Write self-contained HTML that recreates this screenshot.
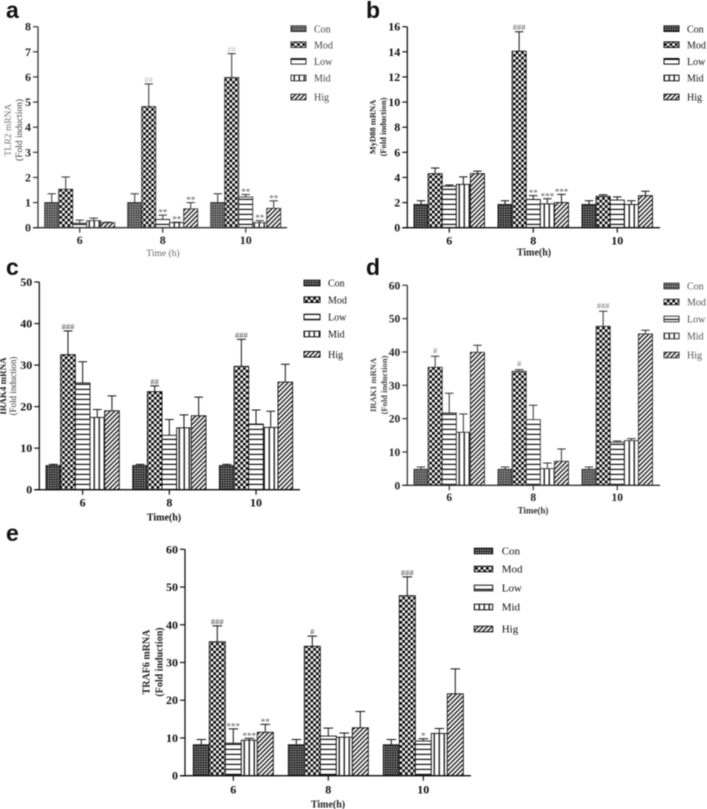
<!DOCTYPE html>
<html lang="en">
<head>
<meta charset="utf-8">
<title>mRNA fold induction panels</title>
<style>
html,body{margin:0;padding:0;background:#fff;}
body{width:707px;height:809px;overflow:hidden;}
svg{display:block;filter:blur(.4px);}
text{font-family:"Liberation Serif",serif;}
</style>
</head>
<body>
<svg id="figure" width="707" height="809" viewBox="0 0 707 809" xmlns="http://www.w3.org/2000/svg">
<defs>
<pattern id="pc" width="2.4" height="2.4" patternUnits="userSpaceOnUse"><rect width="2.4" height="2.4" fill="#222"/><rect width="1.2" height="1.2" fill="#ccc"/></pattern>
<pattern id="pc2" width="2.4" height="2.4" patternUnits="userSpaceOnUse"><rect width="2.4" height="2.4" fill="#444"/><rect width="1.2" height="1.2" fill="#ccc"/></pattern>
<pattern id="pm" width="5.4" height="5.4" patternUnits="userSpaceOnUse"><rect width="5.4" height="5.4" fill="#fff"/><rect width="2.7" height="2.7" fill="#000"/><rect x="2.7" y="2.7" width="2.7" height="2.7" fill="#000"/></pattern>
<pattern id="pl" width="5" height="5" patternUnits="userSpaceOnUse"><rect width="5" height="5" fill="#fff"/><rect y="3.8" width="5" height="1.2" fill="#111"/></pattern>
<pattern id="pv" width="5" height="5" patternUnits="userSpaceOnUse"><rect width="5" height="5" fill="#fff"/><rect x="3.6" width="1.3" height="5" fill="#111"/></pattern>
<pattern id="ph" width="3.2" height="3.2" patternUnits="userSpaceOnUse" patternTransform="rotate(45)"><rect width="3.2" height="3.2" fill="#fff"/><rect width="1.3" height="3.2" fill="#111"/></pattern>
</defs>
</svg>
<script>
const categories = ['6', '8', '10'];
const seriesNames = ['Con', 'Mod', 'Low', 'Mid', 'Hig'];

const aTicks = [0, 1, 2, 3, 4, 5, 6, 7, 8];
const aCon = [1, 1, 1];
const aMod = [1.53, 4.82, 5.98];
const aLow = [0.18, 0.33, 1.22];
const aMid = [0.28, 0.2, 0.2];
const aHig = [0.2, 0.75, 0.77];
const aConErr = [0.35, 0.35, 0.35];
const aModErr = [0.49, 0.9, 0.95];
const aLowErr = [0.12, 0.17, 0.1];
const aMidErr = [0.1, 0.02, 0.08];
const aHigErr = [0.02, 0.25, 0.3];
const aMarks = [['', '', ''], ['', '##', '##'], ['', '**', '**'], ['', '**', '**'], ['', '**', '**']];

const bTicks = [0, 2, 4, 6, 8, 10, 12, 14, 16];
const bCon = [1.85, 1.85, 1.85];
const bMod = [4.3, 14.05, 2.5];
const bLow = [3.3, 2.25, 2.2];
const bMid = [3.45, 1.9, 1.85];
const bHig = [4.3, 2.0, 2.55];
const bConErr = [0.3, 0.3, 0.3];
const bModErr = [0.45, 1.55, 0.12];
const bLowErr = [0.1, 0.3, 0.25];
const bMidErr = [0.6, 0.4, 0.3];
const bHigErr = [0.2, 0.65, 0.35];
const bMarks = [['', '', ''], ['', '###', ''], ['', '**', ''], ['', '***', ''], ['', '***', '']];

const cTicks = [0, 10, 20, 30, 40, 50];
const cCon = [5.8, 5.8, 5.8];
const cMod = [32.5, 23.6, 29.7];
const cLow = [25.7, 13.1, 15.8];
const cMid = [17.4, 14.9, 15];
const cHig = [19, 17.8, 25.9];
const cConErr = [0.3, 0.3, 0.3];
const cModErr = [5.7, 1.4, 6.5];
const cLowErr = [5.1, 3.8, 3.4];
const cMidErr = [1.9, 3.1, 3.9];
const cHigErr = [3.6, 4.5, 4.3];
const cMarks = [['', '', ''], ['###', '##', '###'], ['', '', ''], ['', '', ''], ['', '', '']];

const dTicks = [0, 10, 20, 30, 40, 50, 60];
const dCon = [4.8, 4.8, 4.8];
const dMod = [35.4, 34.2, 47.7];
const dLow = [21.7, 19.7, 12.9];
const dMid = [15.9, 5, 13.4];
const dHig = [39.9, 7.2, 45.4];
const dConErr = [0.7, 0.7, 0.7];
const dModErr = [3.3, 0.5, 4.5];
const dLowErr = [5.9, 4.3, 0.4];
const dMidErr = [5.5, 1.7, 0.6];
const dHigErr = [2.1, 3.7, 1.1];
const dMarks = [['', '', ''], ['#', '#', '###'], ['', '', ''], ['', '', ''], ['', '', '']];

const eTicks = [0, 10, 20, 30, 40, 50, 60];
const eCon = [8.2, 8.2, 8.2];
const eMod = [35.5, 34.3, 47.7];
const eLow = [8.6, 10.5, 9.2];
const eMid = [9.4, 10.2, 11.2];
const eHig = [11.5, 12.7, 21.7];
const eConErr = [1.4, 1.4, 1.4];
const eModErr = [4.2, 2.7, 5];
const eLowErr = [3.8, 2.1, 0.6];
const eMidErr = [0.5, 1.1, 1.3];
const eHigErr = [2.1, 4.3, 6.6];
const eMarks = [['', '', ''], ['###', '#', '###'], ['***', '', '*'], ['***', '', ''], ['**', '', '']];

const NS = 'http://www.w3.org/2000/svg';
const root = document.getElementById('figure');
const baseFills = ['url(#pm)', 'url(#pl)', 'url(#pv)', 'url(#ph)'];

function mk(parent, tag, attrs, txt) {
  const el = document.createElementNS(NS, tag);
  for (const k in attrs) el.setAttribute(k, attrs[k]);
  if (txt !== undefined) el.textContent = txt;
  parent.appendChild(el);
  return el;
}

function drawPanel(p) {
  const g = mk(root, 'g', {});
  
  
  const maxV = p.ticks[p.ticks.length - 1];
  const yOf = v => p.y0 - (v / maxV) * (p.y0 - p.yTop);
  const groupX = i => p.groupStart + i * p.groupStep;
  const col = p.ink;
  const fills = [p.conFill].concat(baseFills);

  const letter = mk(g, 'text', {x: p.letterX, y: p.letterY, 'font-size': 23, 'font-weight': 'bold', fill: '#111', style: 'font-family:"Liberation Sans",sans-serif'}, p.id);
  
  

  p.values.forEach((vals, s) => {
    vals.forEach((v, c) => {
      const x = groupX(c) + s * p.barW;
      const top = yOf(v);
      const errTop = yOf(v + p.errors[s][c]);
      const cx = x + p.barW / 2;
      const eb = mk(g, 'path', {d: 'M' + cx + ' ' + top + 'V' + errTop + 'M' + (cx - p.barW * 0.3) + ' ' + errTop + 'H' + (cx + p.barW * 0.3), stroke: col, 'stroke-width': 1, fill: 'none'});
      
      
      const bar = mk(g, 'rect', {x: x, y: top, width: p.barW, height: p.y0 - top, fill: fills[s], stroke: col, 'stroke-width': 0.9});
      
      
      const mark = p.marks[s][c];
      if (mark) {
        const isHash = mark[0] === '#';
        const t = mk(g, 'text', {x: cx, y: errTop + (isHash ? p.hashDy : p.starDy), 'text-anchor': 'middle', 'font-size': isHash ? 8.5 : 9, fill: isHash ? p.hashInk : p.starInk}, mark);
        
        
      }
    });
  });

  const yAxis = mk(g, 'line', {x1: p.axisX, x2: p.axisX, y1: p.yTop, y2: p.y0 + 0.7, stroke: col, 'stroke-width': 1.3});
  
  
  const xAxis = mk(g, 'line', {x1: p.axisX - 5, x2: p.axisEnd, y1: p.y0, y2: p.y0, stroke: col, 'stroke-width': 1.3});
  
  

  p.ticks.forEach(v => {
    const y = yOf(v);
    mk(g, 'line', {x1: p.axisX - 5, x2: p.axisX, y1: y, y2: y, stroke: col, 'stroke-width': 1.2});
    const t = mk(g, 'text', {x: p.axisX - 7, y: y + 4, 'text-anchor': 'end', 'font-size': p.tickSize, 'font-weight': 'bold', fill: p.labelInk}, String(v));
    
    
  });

  categories.forEach((c, i) => {
    const cx = groupX(i) + p.barW * 2.5;
    mk(g, 'line', {x1: cx, x2: cx, y1: p.y0, y2: p.y0 + 5, stroke: col, 'stroke-width': 1.2});
    const t = mk(g, 'text', {x: cx, y: p.y0 + p.catDy, 'text-anchor': 'middle', 'font-size': p.tickSize, 'font-weight': 'bold', fill: p.labelInk}, c);
    
    
  });

  const xt = mk(g, 'text', {x: p.xTitleX, y: p.xTitleY, 'text-anchor': 'middle', 'font-size': p.xTitleSize, 'font-weight': p.xTitleWeight, fill: p.xTitleInk}, p.xTitle);
  
  

  const yt = mk(g, 'text', {transform: 'translate(' + p.yTitleX + ' ' + p.yTitleY + ') rotate(-90)', 'text-anchor': 'middle', 'font-size': p.yTitleSize, 'font-weight': p.yTitleWeight, fill: p.yTitleInk});
  
  
  mk(yt, 'tspan', {x: 0, y: 0, fill: p.yTitleInk1 || p.yTitleInk, 'font-weight': p.yTitleWeight1 || p.yTitleWeight}, p.yTitle);
  mk(yt, 'tspan', {x: 0, y: p.yTitleGap}, '(Fold induction)');

  seriesNames.forEach((name, s) => {
    const ly = p.legendY[s];
    const entry = mk(g, 'g', {});
    
    
    mk(entry, 'rect', {x: p.legendX, y: ly - 2.8, width: p.legendW, height: 5.6, fill: fills[s], stroke: col, 'stroke-width': 1});
    mk(entry, 'text', {x: p.legendTextX, y: ly + 3.6, 'font-size': p.legendSize, fill: p.legendInk}, name);
  });
}

drawPanel({id: 'a', ticks: aTicks, conFill: 'url(#pc2)',
  values: [aCon, aMod, aLow, aMid, aHig], errors: [aConErr, aModErr, aLowErr, aMidErr, aHigErr], marks: aMarks,
  y0: 227.7, yTop: 26.7, axisX: 38, axisEnd: 287, groupStart: 44.7, groupStep: 83, barW: 14,
  ink: '#333', labelInk: '#222', hashInk: '#bbb', starInk: '#555', hashDy: -1.5, starDy: 0.5, tickSize: 12, catDy: 16.5,
  letterX: 6, letterY: 18, xTitle: 'Time (h)', xTitleX: 163, xTitleY: 256, xTitleSize: 9.5, xTitleWeight: 'normal', xTitleInk: '#666',
  yTitle: 'TLR2 mRNA', yTitleX: 11, yTitleY: 130, yTitleGap: 11, yTitleSize: 9.5, yTitleWeight: 'normal', yTitleInk: '#444', yTitleInk1: '#777',
  legendX: 291, legendW: 15, legendTextX: 314, legendSize: 10, legendInk: '#444', legendY: {0: 28.7, 1: 44.7, 2: 61.3, 3: 78, 4: 97}});

drawPanel({id: 'b', ticks: bTicks, conFill: 'url(#pc)',
  values: [bCon, bMod, bLow, bMid, bHig], errors: [bConErr, bModErr, bLowErr, bMidErr, bHigErr], marks: bMarks,
  y0: 227.7, yTop: 26.7, axisX: 407.3, axisEnd: 660, groupStart: 414, groupStep: 84, barW: 14.1,
  ink: '#111', labelInk: '#111', hashInk: '#555', starInk: '#555', hashDy: -1.5, starDy: 0.5, tickSize: 12, catDy: 17,
  letterX: 366, letterY: 18, xTitle: 'Time(h)', xTitleX: 534, xTitleY: 255.5, xTitleSize: 10, xTitleWeight: 'bold', xTitleInk: '#222',
  yTitle: 'MyD88 mRNA', yTitleX: 375.5, yTitleY: 127, yTitleGap: 10.5, yTitleSize: 8.5, yTitleWeight: 'bold', yTitleInk: '#222',
  legendX: 664, legendW: 15, legendTextX: 687, legendSize: 10, legendInk: '#111', legendY: {0: 28.7, 1: 44.7, 2: 61.3, 3: 78, 4: 97}});

drawPanel({id: 'c', ticks: cTicks, conFill: 'url(#pc)',
  values: [cCon, cMod, cLow, cMid, cHig], errors: [cConErr, cModErr, cLowErr, cMidErr, cHigErr], marks: cMarks,
  y0: 489.7, yTop: 282, axisX: 39.3, axisEnd: 300, groupStart: 46, groupStep: 86.7, barW: 14.65,
  ink: '#111', labelInk: '#111', hashInk: '#444', starInk: '#444', hashDy: -1.5, starDy: 0.5, tickSize: 12, catDy: 17,
  letterX: 6, letterY: 275, xTitle: 'Time(h)', xTitleX: 164, xTitleY: 520.5, xTitleSize: 10, xTitleWeight: 'bold', xTitleInk: '#111',
  yTitle: 'IRAK4 mRNA', yTitleX: 6, yTitleY: 386, yTitleGap: 10, yTitleSize: 9, yTitleWeight: 'normal', yTitleWeight1: 'bold', yTitleInk: '#333', yTitleInk1: '#222',
  legendX: 304, legendW: 16, legendTextX: 328, legendSize: 10, legendInk: '#111', legendY: {0: 283, 1: 299.7, 2: 317, 3: 334, 4: 354.3}});

drawPanel({id: 'd', ticks: dTicks, conFill: 'url(#pc2)',
  values: [dCon, dMod, dLow, dMid, dHig], errors: [dConErr, dModErr, dLowErr, dMidErr, dHigErr], marks: dMarks,
  y0: 485.3, yTop: 285.3, axisX: 407.3, axisEnd: 660, groupStart: 414, groupStep: 84, barW: 14.1,
  ink: '#333', labelInk: '#222', hashInk: '#777', starInk: '#777', hashDy: -3, starDy: 0.5, tickSize: 11.5, catDy: 15.5,
  letterX: 366, letterY: 275, xTitle: 'Time(h)', xTitleX: 533, xTitleY: 513.5, xTitleSize: 9, xTitleWeight: 'bold', xTitleInk: '#333',
  yTitle: 'IRAK1 mRNA', yTitleX: 376, yTitleY: 385, yTitleGap: 11, yTitleSize: 8.5, yTitleWeight: 'bold', yTitleInk: '#444',
  legendX: 664, legendW: 15, legendTextX: 687, legendSize: 10, legendInk: '#555', legendY: {0: 286, 1: 302, 2: 319, 3: 336, 4: 355}});

drawPanel({id: 'e', ticks: eTicks, conFill: 'url(#pc)',
  values: [eCon, eMod, eLow, eMid, eHig], errors: [eConErr, eModErr, eLowErr, eMidErr, eHigErr], marks: eMarks,
  y0: 775.7, yTop: 549.3, axisX: 185, axisEnd: 471, groupStart: 193.3, groupStep: 95, barW: 16,
  ink: '#111', labelInk: '#111', hashInk: '#444', starInk: '#555', hashDy: -1.5, starDy: 0.5, tickSize: 12, catDy: 18,
  letterX: 6, letterY: 541, xTitle: 'Time(h)', xTitleX: 328, xTitleY: 807.5, xTitleSize: 10, xTitleWeight: 'bold', xTitleInk: '#222',
  yTitle: 'TRAF6 mRNA', yTitleX: 149.5, yTitleY: 662, yTitleGap: 13, yTitleSize: 10, yTitleWeight: 'bold', yTitleInk: '#222',
  legendX: 474.3, legendW: 18.4, legendTextX: 501.7, legendSize: 11, legendInk: '#111', legendY: {0: 551, 1: 569, 2: 588, 3: 607, 4: 629}});
</script>
</body>
</html>
